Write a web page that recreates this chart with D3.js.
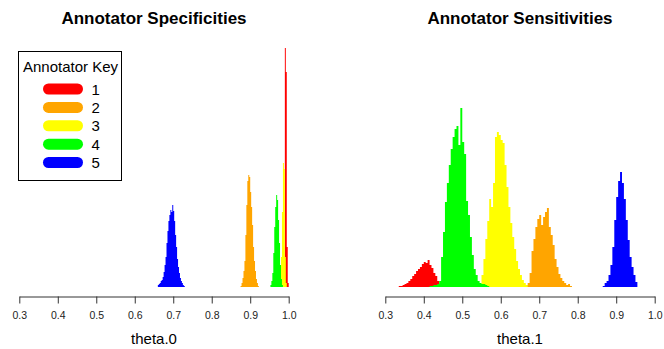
<!DOCTYPE html>
<html>
<head>
<meta charset="utf-8">
<script src="https://cdn.jsdelivr.net/npm/d3@7"></script>
<style>
  body { margin: 0; background: #fff; }
  svg { display: block; font-family: "Liberation Sans", Arial, sans-serif; }
</style>
</head>
<body>
<svg id="chart" width="664" height="349"></svg>
<script>
// annotator colours and keys
var annotators = ["1", "2", "3", "4", "5"];
var colors = ["#ff0000", "#ffa500", "#ffff00", "#00ff00", "#0000ff"];
var tickValues = [0.3, 0.4, 0.5, 0.6, 0.7, 0.8, 0.9, 1.0];

// specificity histograms (theta.0), bin width 0.0025, start of first bin
var specStart = [0.985, 0.875, 0.975, 0.9525, 0.66];
var specWidth = 0.0025;
var spec1 = [3, 20, 239, 215, 40, 4];
var spec2 = [1, 4, 9, 16, 26, 52, 82, 106, 112, 110, 95, 80, 62, 40, 26, 16, 8, 4, 1];
var spec3 = [2, 8, 30, 75, 124, 118, 30, 4];
var spec4 = [2, 6, 14, 34, 60, 80, 92, 87, 67, 44, 22, 8, 2];
var spec5 = [2, 3, 4, 6, 7, 10, 15, 22, 30, 44, 56, 66, 72, 77, 75, 82, 76, 66, 52, 40, 28, 20, 14, 9, 6, 4, 2, 1];

// sensitivity histograms (theta.1), bin width 0.005
var sensStart = [0.335, 0.665, 0.545, 0.415, 0.865];
var sensWidth = 0.005;
var sens1 = [1, 1, 2, 3, 4, 6, 8, 11, 13, 16, 18, 20, 23, 25, 24, 27, 22, 19, 14, 11, 6, 3];
var sens2 = [2, 4, 14, 36, 48, 60, 68, 72, 62, 70, 75, 79, 60, 52, 42, 28, 20, 13, 9, 6, 4, 2, 3, 1];
var sens3 = [2, 12, 28, 48, 66, 88, 80, 104, 150, 155, 152, 147, 144, 122, 100, 80, 64, 50, 38, 26, 18, 12, 7, 4, 2];
var sens4 = [1, 1, 2, 2, 3, 6, 30, 55, 85, 104, 122, 138, 150, 158, 161, 142, 179, 145, 133, 86, 72, 50, 32, 18, 12, 6, 4, 3, 3, 2, 1];
var sens5 = [1, 4, 6, 12, 22, 40, 67, 90, 106, 115, 104, 88, 67, 47, 30, 20, 12, 5];

var svg = d3.select("#chart");

var baseY = 287;
var y = d3.scaleLinear().domain([0, 250]).range([baseY, baseY - 250]);

function panel(left, title, xlab, starts, width, series) {
  var x = d3.scaleLinear().domain([0.3, 1.0]).range([left, left + 269.4]);
  var g = svg.append("g");

  var area = d3.area()
    .curve(d3.curveStepAfter)
    .x(function(d) { return x(d.v); })
    .y0(baseY)
    .y1(function(d) { return y(d.c); });

  series.forEach(function(counts, k) {
    var pts = counts.map(function(c, i) { return {v: starts[k] + i * width, c: c}; });
    pts.push({v: starts[k] + counts.length * width, c: counts[counts.length - 1]});
    g.append("path")
      .attr("d", area(pts))
      .style("fill", colors[k])
      .style("stroke", "none");
  });

  var axis = d3.axisBottom(x)
    .tickValues(tickValues)
    .tickFormat(d3.format(".1f"))
    .tickSize(7)
    .tickSizeOuter(0)
    .tickPadding(8);
  var ax = g.append("g")
    .attr("transform", "translate(0,296.5)")
    .call(axis);
  ax.select(".domain").style("stroke", "#333");
  ax.selectAll(".tick line").style("stroke", "#333");
  ax.selectAll(".tick text")
    .style("font-family", "Liberation Sans, Arial, sans-serif")
    .style("font-size", "10.5px")
    .style("fill", "#222");

  var cx = left + 134.7;
  g.append("text")
    .attr("x", cx)
    .attr("y", 24)
    .style("font-size", "17px")
    .style("font-weight", "bold")
    .style("text-anchor", "middle")
    .style("fill", "#000")
    .text(title);

  g.append("text")
    .attr("x", cx)
    .attr("y", 344)
    .style("font-size", "15px")
    .style("text-anchor", "middle")
    .style("fill", "#000")
    .text(xlab);
}

panel(19.3, "Annotator Specificities", "theta.0", specStart, specWidth, [spec1, spec2, spec3, spec4, spec5]);
panel(385.3, "Annotator Sensitivities", "theta.1", sensStart, sensWidth, [sens1, sens2, sens3, sens4, sens5]);

// legend
var legend = svg.append("g");
legend.append("rect")
  .attr("x", 18.5)
  .attr("y", 51.5)
  .attr("width", 103)
  .attr("height", 129)
  .style("fill", "#fff")
  .style("stroke", "#000")
  .style("stroke-width", 1);
legend.append("text")
  .attr("x", 70.5)
  .attr("y", 72)
  .style("font-size", "15px")
  .style("text-anchor", "middle")
  .text("Annotator Key");

var ly = d3.scalePoint().domain(annotators).range([89, 162.5]);
annotators.forEach(function(a, i) {
  legend.append("line")
    .attr("x1", 48.5)
    .attr("x2", 77.5)
    .attr("y1", ly(a))
    .attr("y2", ly(a))
    .style("stroke", colors[i])
    .style("stroke-width", 11)
    .style("stroke-linecap", "round");
  legend.append("text")
    .attr("x", 91.5)
    .attr("y", ly(a) + 5.5)
    .style("font-size", "15px")
    .text(a);
});
</script>
</body>
</html>
